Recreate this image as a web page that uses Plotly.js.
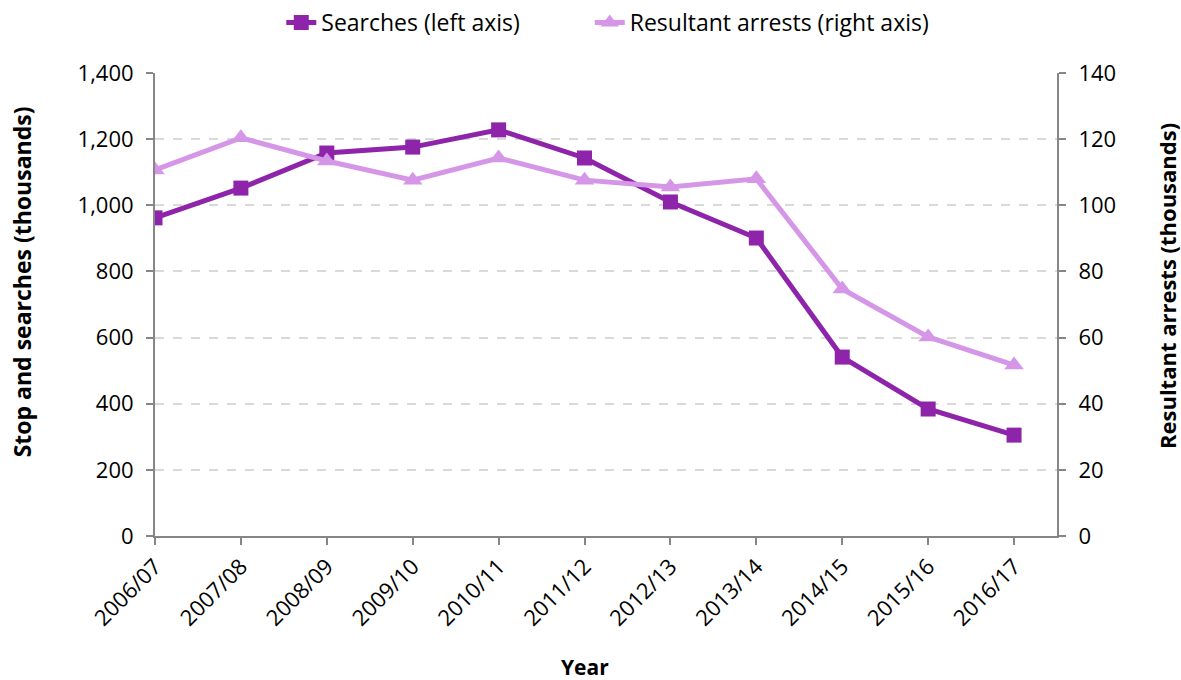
<!DOCTYPE html>
<html>
<head>
<meta charset="utf-8">
<script src="https://cdn.plot.ly/plotly-3.0.1.min.js"></script>
<style>html,body{margin:0;padding:0;background:#fff}#chart{width:1181px;height:680px}</style>
</head>
<body>
<div id="chart"></div>
<script>
const years = ["2006/07","2007/08","2008/09","2009/10","2010/11","2011/12","2012/13","2013/14","2014/15","2015/16","2016/17"];
const searches = [962, 1052, 1158, 1176, 1228, 1143, 1010, 901, 541, 384, 305];
const arrests = [110.7, 120.4, 113.4, 107.6, 114.3, 107.6, 105.5, 108.0, 74.7, 60.2, 51.7];
const leftTicks = [0, 200, 400, 600, 800, 1000, 1200, 1400];
const rightTicks = [0, 20, 40, 60, 80, 100, 120, 140];
const titles = {x: "Year", y: "Stop and searches (thousands)", y2: "Resultant arrests (thousands)"};

const FONT = "'Open Sans', Lato, sans-serif";
const traces = [
  {x: years, y: searches, name: "Searches (left axis)", type: "scatter", mode: "lines+markers", legend: "legend",
   line: {color: "#8E24AA", width: 5}, marker: {symbol: "square", size: 15, color: "#8E24AA"}, yaxis: "y"},
  {x: years, y: arrests, name: "Resultant arrests (right axis)", type: "scatter", mode: "lines+markers", legend: "legend2",
   line: {color: "#D596E8", width: 5}, marker: {symbol: "triangle-up", size: 17, color: "#D596E8"}, yaxis: "y2"}
];
const axisCommon = {showline: true, linecolor: "#868686", linewidth: 2, ticks: "outside", ticklen: 7,
  tickcolor: "#868686", tickwidth: 2, tickfont: {family: FONT, size: 22, color: "#000"}};
const legendCommon = {orientation: "h", y: 0.967, yanchor: "middle", yref: "container", xanchor: "left",
  font: {family: FONT, size: 23, color: "#000"}, bgcolor: "rgba(0,0,0,0)"};
const layout = {
  width: 1181, height: 680,
  margin: {l: 155, r: 124, t: 73, b: 144},
  paper_bgcolor: "#fff", plot_bgcolor: "#fff",
  font: {family: FONT, size: 22, color: "#000"},
  showlegend: true,
  legend: Object.assign({x: 0.140}, legendCommon),
  legend2: Object.assign({x: 0.482}, legendCommon),
  xaxis: Object.assign({type: "category", range: [0, 10.5], tickangle: -45, showgrid: false}, axisCommon),
  yaxis: Object.assign({range: [0, 1400], tickvals: leftTicks, ticktext: leftTicks.map(v => v.toLocaleString("en-US")),
    showgrid: true, gridcolor: "#D9D9D9", griddash: "dash", gridwidth: 2, zeroline: false, ticklabelstandoff: 8}, axisCommon),
  yaxis2: Object.assign({range: [0, 140], tickvals: rightTicks, overlaying: "y", side: "right", showgrid: false,
    zeroline: false, ticklabelstandoff: 8}, axisCommon),
  annotations: [
    {text: "<b>" + titles.x + "</b>", xref: "paper", yref: "paper", x: 0.477, y: -0.283, xanchor: "center", yanchor: "middle",
     showarrow: false, font: {family: FONT, size: 21, color: "#000"}},
    {text: "<b>" + titles.y + "</b>", xref: "paper", yref: "paper", x: -0.1475, y: 0.55, xanchor: "center", yanchor: "middle",
     textangle: -90, showarrow: false, font: {family: FONT, size: 23, color: "#000"}},
    {text: "<b>" + titles.y2 + "</b>", xref: "paper", yref: "paper", x: 1.122, y: 0.54, xanchor: "center", yanchor: "middle",
     textangle: -90, showarrow: false, font: {family: FONT, size: 22, color: "#000"}}
  ]
};
Plotly.newPlot("chart", traces, layout, {displayModeBar: false, staticPlot: true});
</script>
</body>
</html>
